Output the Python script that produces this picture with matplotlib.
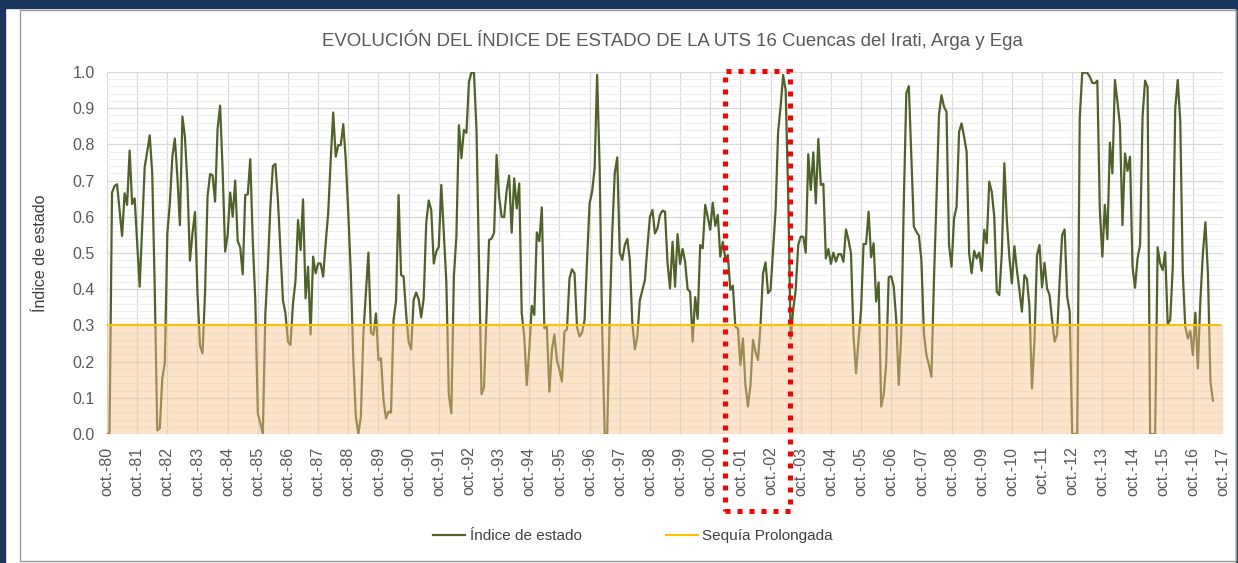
import numpy as np
import matplotlib.pyplot as plt
from matplotlib.patches import Rectangle

plt.rcParams['font.family'] = ['Liberation Sans', 'DejaVu Sans']

year_labels = ["oct.-80", "oct.-81", "oct.-82", "oct.-83", "oct.-84", "oct.-85", "oct.-86",
               "oct.-87", "oct.-88", "oct.-89", "oct.-90", "oct.-91", "oct.-92", "oct.-93",
               "oct.-94", "oct.-95", "oct.-96", "oct.-97", "oct.-98", "oct.-99", "oct.-00",
               "oct.-01", "oct.-02", "oct.-03", "oct.-04", "oct.-05", "oct.-06", "oct.-07",
               "oct.-08", "oct.-09", "oct.-10", "oct.-11", "oct.-12", "oct.-13", "oct.-14",
               "oct.-15", "oct.-16", "oct.-17"]

# monthly index, one row per hydrological year (oct..sep)
indice_estado = [
    0.0, 0.0, 0.667, 0.685, 0.69, 0.62, 0.547, 0.665, 0.633, 0.783, 0.635, 0.651,
    0.53, 0.407, 0.57, 0.738, 0.78, 0.825, 0.72, 0.4, 0.01, 0.016, 0.154, 0.195,
    0.554, 0.637, 0.766, 0.816, 0.711, 0.577, 0.877, 0.821, 0.692, 0.479, 0.554, 0.613,
    0.389, 0.244, 0.223, 0.389, 0.656, 0.718, 0.715, 0.642, 0.844, 0.907, 0.729, 0.504,
    0.55, 0.667, 0.6, 0.7, 0.533, 0.515, 0.441, 0.66, 0.662, 0.759, 0.531, 0.37,
    0.057, 0.03, 0.0, 0.333, 0.462, 0.628, 0.74, 0.746, 0.646, 0.508, 0.37, 0.333,
    0.255, 0.246, 0.361, 0.423, 0.591, 0.508, 0.648, 0.375, 0.462, 0.275, 0.49, 0.444,
    0.471, 0.471, 0.435, 0.527, 0.61, 0.757, 0.888, 0.766, 0.798, 0.798, 0.856, 0.757,
    0.61, 0.444, 0.204, 0.048, 0.0, 0.048, 0.278, 0.389, 0.501, 0.28, 0.274, 0.333,
    0.204, 0.209, 0.094, 0.043, 0.062, 0.059, 0.315, 0.368, 0.66, 0.439, 0.435, 0.333,
    0.255, 0.234, 0.37, 0.391, 0.372, 0.322, 0.375, 0.582, 0.645, 0.619, 0.471, 0.504,
    0.517, 0.688, 0.554, 0.421, 0.108, 0.057, 0.435, 0.545, 0.853, 0.762, 0.84, 0.832,
    0.973, 0.998, 0.998, 0.84, 0.481, 0.11, 0.129, 0.333, 0.536, 0.54, 0.556, 0.771,
    0.656, 0.6, 0.599, 0.672, 0.714, 0.556, 0.706, 0.623, 0.692, 0.333, 0.269, 0.135,
    0.232, 0.354, 0.329, 0.557, 0.533, 0.626, 0.292, 0.296, 0.117, 0.232, 0.275, 0.204,
    0.177, 0.145, 0.283, 0.289, 0.43, 0.455, 0.444, 0.296, 0.269, 0.28, 0.315, 0.481,
    0.637, 0.669, 0.734, 0.992, 0.738, 0.287, 0.0, 0.0, 0.324, 0.554, 0.72, 0.764,
    0.501, 0.481, 0.522, 0.539, 0.481, 0.306, 0.234, 0.269, 0.37, 0.398, 0.425, 0.517,
    0.6, 0.619, 0.554, 0.568, 0.605, 0.617, 0.614, 0.473, 0.402, 0.531, 0.407, 0.552,
    0.47, 0.511, 0.476, 0.4, 0.393, 0.255, 0.378, 0.318, 0.522, 0.513, 0.633, 0.6,
    0.564, 0.639, 0.575, 0.605, 0.49, 0.531, 0.485, 0.494, 0.398, 0.41, 0.296, 0.292,
    0.191, 0.264, 0.135, 0.076, 0.135, 0.26, 0.227, 0.204, 0.301, 0.444, 0.474, 0.389,
    0.398, 0.508, 0.619, 0.835, 0.904, 0.992, 0.95, 0.665, 0.264, 0.343, 0.398, 0.522,
    0.545, 0.545, 0.501, 0.773, 0.674, 0.778, 0.637, 0.815, 0.688, 0.691, 0.485, 0.511,
    0.47, 0.501, 0.476, 0.497, 0.497, 0.476, 0.565, 0.536, 0.499, 0.269, 0.168, 0.26,
    0.343, 0.525, 0.525, 0.614, 0.488, 0.527, 0.366, 0.419, 0.076, 0.108, 0.195, 0.433,
    0.436, 0.407, 0.315, 0.135, 0.278, 0.637, 0.941, 0.961, 0.766, 0.573, 0.559, 0.548,
    0.481, 0.278, 0.218, 0.191, 0.158, 0.425, 0.646, 0.881, 0.936, 0.904, 0.89, 0.522,
    0.462, 0.596, 0.628, 0.835, 0.858, 0.821, 0.78, 0.499, 0.444, 0.506, 0.485, 0.501,
    0.451, 0.564, 0.527, 0.697, 0.669, 0.6, 0.393, 0.384, 0.499, 0.748, 0.591, 0.49,
    0.416, 0.519, 0.453, 0.398, 0.338, 0.439, 0.428, 0.352, 0.126, 0.26, 0.494, 0.522,
    0.405, 0.473, 0.402, 0.384, 0.315, 0.255, 0.276, 0.421, 0.55, 0.565, 0.379, 0.338,
    0.0, 0.0, 0.0, 0.872, 0.998, 0.998, 0.998, 0.987, 0.97, 0.969, 0.976, 0.619,
    0.49, 0.633, 0.538, 0.805, 0.72, 0.978, 0.918, 0.854, 0.577, 0.775, 0.727, 0.766,
    0.462, 0.404, 0.485, 0.522, 0.877, 0.976, 0.958, 0.0, 0.0, 0.0, 0.516, 0.471,
    0.453, 0.502, 0.304, 0.315, 0.458, 0.9, 0.978, 0.863, 0.444, 0.296, 0.264, 0.285,
    0.218, 0.335, 0.181, 0.37, 0.499, 0.585, 0.444, 0.145, 0.092,
]
sequia_prolongada = 0.3

# highlighted period (month index from oct-80)
highlight_months = (246, 271.6)

W, H = 1238, 563
fig = plt.figure(figsize=(W / 100, H / 100), dpi=100)
ax = fig.add_axes([107 / W, 1 - 434 / H, (1223 - 107) / W, (434 - 72) / H])

n_months = 12 * (len(year_labels) - 1)
x = np.arange(len(indice_estado))

ax.plot(x, indice_estado, color='#4f6228', lw=1.6, zorder=3, label='Índice de estado')
ax.plot([0, n_months - 1], [sequia_prolongada] * 2, color='#ffc000', lw=1.5, zorder=4,
        label='Sequía Prolongada')
ax.fill_between([0, n_months], 0, sequia_prolongada, color='#f7c48a', alpha=0.45,
                lw=0, zorder=3.5)

ax.set_xlim(0, n_months)
ax.set_ylim(0, 1.0)
ax.set_xticks(np.arange(0, n_months + 1, 12))
ax.set_xticklabels(year_labels, rotation=90)
ax.set_yticks(np.arange(0, 1.01, 0.1))
ax.set_yticklabels([f'{v:.1f}' for v in np.arange(0, 1.01, 0.1)])
ax.set_yticks(np.arange(0, 1.001, 0.02), minor=True)
ax.tick_params(axis='both', length=0, labelsize=11.5, colors='#595959', pad=9)
ax.tick_params(axis='y', which='minor', length=0)
ax.grid(True, which='major', color='#d9d9d9', lw=0.9)
ax.grid(True, which='minor', axis='y', color='#efefef', lw=0.8)
ax.set_axisbelow(True)
for s in ax.spines.values():
    s.set_visible(False)

ax.set_ylabel('Índice de estado', fontsize=11.5, color='#404040')
ax.yaxis.set_label_coords(-0.053, 0.5)

fig.text(672 / W, 1 - 40 / H,
         'EVOLUCIÓN DEL ÍNDICE DE ESTADO DE LA UTS 16 Cuencas del Irati, Arga y Ega',
         ha='center', va='center', fontsize=13.4, color='#595959')

leg = ax.legend(loc='center', bbox_to_anchor=(633 / W, 1 - 536 / H),
                bbox_transform=fig.transFigure, ncol=2, frameon=False, fontsize=11,
                handlelength=2.1, handletextpad=0.3, columnspacing=5.5)
for t in leg.get_texts():
    t.set_color('#404040')

# red dotted box over the 2001-2003 period
ax.add_patch(Rectangle((highlight_months[0], -0.212), highlight_months[1] - highlight_months[0],
                       1.216, fill=False, edgecolor='#ff0000', lw=3.6,
                       linestyle=(0, (1, 1.4)), clip_on=False, zorder=6))

# outer frame
navy = '#1b365d'
fig.patches.append(Rectangle((0, 1 - 8 / H), 1, 8 / H, transform=fig.transFigure,
                             color=navy, zorder=0))
fig.patches.append(Rectangle((0, 0), 5 / W, 1, transform=fig.transFigure, color=navy, zorder=0))
fig.patches.append(Rectangle((1 - 2 / W, 0), 2 / W, 1, transform=fig.transFigure,
                             color=navy, zorder=0))
fig.patches.append(Rectangle((20 / W, 2 / H), (1236 - 20) / W, (561 - 10) / H,
                             transform=fig.transFigure, fill=False, edgecolor='#9a9a9a',
                             lw=1, zorder=0))

fig.savefig('out.png', dpi=100)
